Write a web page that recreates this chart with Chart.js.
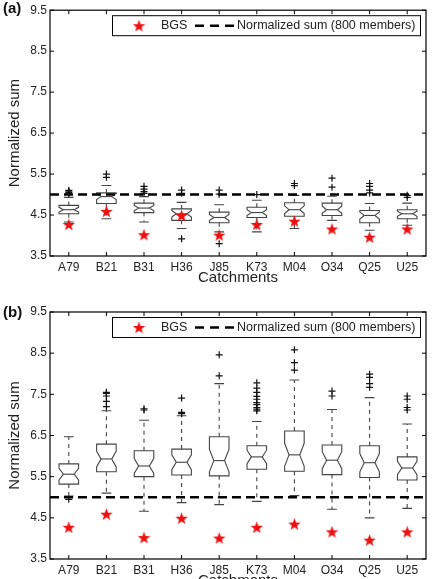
<!DOCTYPE html>
<html>
<head>
<meta charset="utf-8">
<script src="https://cdn.jsdelivr.net/npm/chart.js@4.4.0/dist/chart.umd.min.js"></script>
<style>
  html, body { margin: 0; padding: 0; background: #fff; width: 433px; height: 579px; overflow: hidden; }
  .panel { position: absolute; left: 0; width: 433px; }
  #wrapA { top: 0; height: 290px; }
  #wrapB { top: 290px; height: 303px; }
  .tag { position: absolute; left: 3px; font: bold 15px "Liberation Sans", Arial, sans-serif; line-height: 18px; color: #111; }
</style>
</head>
<body>
<div class="panel" id="wrapA"><canvas id="chartA" width="433" height="290"></canvas></div>
<div class="panel" id="wrapB"><canvas id="chartB" width="433" height="303"></canvas></div>
<div class="tag" style="top:-1px">(a)</div>
<div class="tag" style="top:303px">(b)</div>
<script>
// donnees
const categories = ['A79', 'B21', 'B31', 'H36', 'J85', 'K73', 'M04', 'O34', 'Q25', 'U25'];
const yTicks = [3.5, 4.5, 5.5, 6.5, 7.5, 8.5, 9.5];
const bgs = [4.27, 4.59, 4.02, 4.49, 4.01, 4.27, 4.35, 4.16, 3.96, 4.16];
const normalizedSum = 5.0;
const notchN = 30;

// panel (a)
const aLow    = [4.33, 4.41, 4.33, 4.17, 4.09, 4.09, 4.17, 4.37, 4.13, 4.25];
const aQ1     = [4.53, 4.78, 4.56, 4.37, 4.31, 4.44, 4.47, 4.49, 4.31, 4.41];
const aMedian = [4.63, 4.95, 4.67, 4.53, 4.44, 4.56, 4.63, 4.63, 4.49, 4.53];
const aQ3     = [4.735, 5.04, 4.79, 4.65, 4.57, 4.69, 4.80, 4.79, 4.61, 4.63];
const aHigh   = [4.93, 5.22, 4.95, 4.81, 4.75, 4.86, 4.98, 4.96, 4.78, 4.79];
const aOutliers = [
  [5.02, 5.05, 5.08, 5.10],
  [5.42, 5.50],
  [5.03, 5.07, 5.13, 5.20],
  [3.92, 5.03, 5.11],
  [3.80, 5.01, 5.11],
  [5.00],
  [5.22, 5.27],
  [5.18, 5.40],
  [5.04, 5.11, 5.20, 5.27],
  [4.93, 4.98]
];

// panel (b)
const bLow    = [5.03, 5.10, 4.66, 4.87, 4.82, 4.90, 5.04, 4.71, 4.50, 4.73];
const bQ1     = [5.32, 5.62, 5.50, 5.54, 5.52, 5.68, 5.63, 5.55, 5.48, 5.42];
const bMedian = [5.56, 5.93, 5.76, 5.85, 5.89, 5.98, 6.03, 5.90, 5.84, 5.71];
const bQ3     = [5.81, 6.29, 6.13, 6.17, 6.47, 6.25, 6.61, 6.27, 6.25, 5.98];
const bHigh   = [6.47, 7.10, 6.87, 6.98, 7.76, 6.84, 7.85, 7.13, 7.42, 6.78];
const bOutliers = [
  [4.95],
  [7.20, 7.33, 7.46, 7.52, 7.55],
  [7.12, 7.15],
  [7.03, 7.06, 7.41],
  [7.95, 8.46],
  [7.10, 7.14, 7.18, 7.25, 7.30, 7.38, 7.45, 7.55, 7.65, 7.78],
  [8.09, 8.27, 8.58],
  [7.46, 7.58],
  [7.67, 7.76, 7.91, 7.99],
  [7.12, 7.18, 7.38, 7.46]
];

const FONT = '"Liberation Sans", Arial, Helvetica, sans-serif';
Chart.defaults.font.family = FONT;
Chart.defaults.color = '#222';

// etoile rouge pleine (pointStyle image)
function makeStar(size, color) {
  const c = document.createElement('canvas');
  c.width = size; c.height = size;
  const g = c.getContext('2d');
  const r = size / 2, ri = r * 0.42;
  g.beginPath();
  for (let k = 0; k < 10; k++) {
    const rad = k % 2 === 0 ? r : ri;
    const a = -Math.PI / 2 + k * Math.PI / 5;
    const px = r + rad * Math.cos(a), py = r + 0.6 + rad * Math.sin(a);
    if (k === 0) g.moveTo(px, py); else g.lineTo(px, py);
  }
  g.closePath();
  g.fillStyle = color;
  g.fill();
  return c;
}
const starImg = makeStar(13, '#ee1111');

function boxPlugin(stats) {
  return {
    id: 'boxes',
    beforeDatasetsDraw(chart) {
      const { ctx, chartArea, scales: { x, y } } = chart;
      const step = x.getPixelForValue(1) - x.getPixelForValue(0);
      const half = step * 0.26, capHalf = step * 0.13, inner = half * 0.55;
      ctx.save();
      ctx.strokeStyle = '#444';
      ctx.lineWidth = 1.1;
      stats.q1.forEach((q1, i) => {
        const cx = x.getPixelForValue(i);
        const q3 = stats.q3[i], med = stats.median[i];
        const nd = 1.57 * (q3 - q1) / Math.sqrt(notchN);
        const yq1 = y.getPixelForValue(q1), yq3 = y.getPixelForValue(q3), ym = y.getPixelForValue(med);
        const yn1 = y.getPixelForValue(Math.max(q1, med - nd));
        const yn3 = y.getPixelForValue(Math.min(q3, med + nd));
        const ylo = y.getPixelForValue(stats.low[i]), yhi = y.getPixelForValue(stats.high[i]);
        // moustaches
        ctx.setLineDash([4, 4]);
        ctx.beginPath();
        ctx.moveTo(cx, yq3); ctx.lineTo(cx, yhi);
        ctx.moveTo(cx, yq1); ctx.lineTo(cx, ylo);
        ctx.stroke();
        ctx.setLineDash([]);
        ctx.beginPath();
        ctx.moveTo(cx - capHalf, yhi); ctx.lineTo(cx + capHalf, yhi);
        ctx.moveTo(cx - capHalf, ylo); ctx.lineTo(cx + capHalf, ylo);
        ctx.stroke();
        // boite avec encoche
        ctx.beginPath();
        ctx.moveTo(cx - half, yq1);
        ctx.lineTo(cx - half, yn1);
        ctx.lineTo(cx - inner, ym);
        ctx.lineTo(cx - half, yn3);
        ctx.lineTo(cx - half, yq3);
        ctx.lineTo(cx + half, yq3);
        ctx.lineTo(cx + half, yn3);
        ctx.lineTo(cx + inner, ym);
        ctx.lineTo(cx + half, yn1);
        ctx.lineTo(cx + half, yq1);
        ctx.closePath();
        ctx.stroke();
        ctx.beginPath();
        ctx.moveTo(cx - inner, ym); ctx.lineTo(cx + inner, ym);
        ctx.stroke();
      });
      // ligne somme normalisee
      const yr = y.getPixelForValue(normalizedSum);
      ctx.strokeStyle = '#000';
      ctx.lineWidth = 2.6;
      ctx.setLineDash([9, 5]);
      ctx.beginPath();
      ctx.moveTo(chartArea.left, yr); ctx.lineTo(chartArea.right, yr);
      ctx.stroke();
      ctx.restore();
    },
    afterDraw(chart) {
      const { ctx, chartArea: a, scales: { x, y } } = chart;
      ctx.save();
      ctx.strokeStyle = '#000';
      ctx.lineWidth = 1.2;
      ctx.strokeRect(a.left, a.top, a.right - a.left, a.bottom - a.top);
      ctx.lineWidth = 1;
      ctx.beginPath();
      categories.forEach((c, i) => {
        const px = x.getPixelForValue(i);
        ctx.moveTo(px, a.bottom); ctx.lineTo(px, a.bottom - 4);
        ctx.moveTo(px, a.top); ctx.lineTo(px, a.top + 4);
      });
      yTicks.forEach(v => {
        const py = y.getPixelForValue(v);
        ctx.moveTo(a.left, py); ctx.lineTo(a.left + 4, py);
        ctx.moveTo(a.right, py); ctx.lineTo(a.right - 4, py);
      });
      ctx.stroke();
      // legende
      const lw = 308, lh = 20;
      const lx = a.right - 6 - lw, ly = a.top + 5;
      ctx.fillStyle = '#fff';
      ctx.fillRect(lx, ly, lw, lh);
      ctx.strokeStyle = '#000';
      ctx.lineWidth = 1;
      ctx.strokeRect(lx + 0.5, ly + 0.5, lw, lh);
      const cy = ly + lh / 2 + 0.5;
      ctx.drawImage(starImg, lx + 27 - 6.5, cy - 6.5);
      ctx.fillStyle = '#222';
      ctx.font = '12.5px ' + FONT;
      ctx.textBaseline = 'middle';
      ctx.fillText('BGS', lx + 49, cy);
      ctx.strokeStyle = '#000';
      ctx.lineWidth = 2.6;
      ctx.setLineDash([9, 6]);
      ctx.beginPath();
      ctx.moveTo(lx + 83, cy); ctx.lineTo(lx + 122, cy);
      ctx.stroke();
      ctx.setLineDash([]);
      ctx.fillText('Normalized sum (800 members)', lx + 125, cy);
      ctx.restore();
    }
  };
}

function makePanel(id, stats, plotTop, plotBottom, canvasH) {
  const outliers = [];
  stats.outliers.forEach((list, i) => list.forEach(v => outliers.push({ x: categories[i], y: v })));
  const stars = bgs.map((v, i) => ({ x: categories[i], y: v }));
  return new Chart(document.getElementById(id), {
    type: 'scatter',
    data: {
      labels: categories,
      datasets: [{
        label: 'BGS',
        data: stars,
        pointStyle: starImg,
        pointRadius: 6
      }, {
        label: 'outliers',
        data: outliers,
        pointStyle: 'cross',
        pointRadius: 3.5,
        borderColor: '#111',
        borderWidth: 1.2
      }]
    },
    options: {
      responsive: false,
      animation: false,
      layout: { padding: { top: plotTop, right: 6, left: 0, bottom: 0 } },
      plugins: { legend: { display: false }, tooltip: { enabled: false } },
      scales: {
        x: {
          type: 'category',
          labels: categories,
          offset: true,
          grid: { display: false, drawTicks: false },
          border: { display: false },
          ticks: { font: { size: 12 }, padding: 4, maxRotation: 0, autoSkip: false },
          title: { display: true, text: 'Catchments', font: { size: 15 }, padding: { top: 0, bottom: 3 } },
          afterFit: s => { s.height = canvasH - plotBottom; }
        },
        y: {
          min: 3.5,
          max: 9.5,
          afterBuildTicks: s => { s.ticks = yTicks.map(v => ({ value: v })); },
          grid: { display: false, drawTicks: false },
          border: { display: false },
          ticks: { font: { size: 12 }, padding: 3, callback: v => Number(v).toFixed(1) },
          title: { display: true, text: 'Normalized sum', font: { size: 15 }, padding: { top: 6, bottom: 0 } },
          afterFit: s => { s.width = 50; }
        }
      }
    },
    plugins: [boxPlugin(stats)]
  });
}

makePanel('chartA', { low: aLow, q1: aQ1, median: aMedian, q3: aQ3, high: aHigh, outliers: aOutliers }, 7, 256, 290);
makePanel('chartB', { low: bLow, q1: bQ1, median: bMedian, q3: bQ3, high: bHigh, outliers: bOutliers }, 22, 269, 303);
</script>
</body>
</html>
